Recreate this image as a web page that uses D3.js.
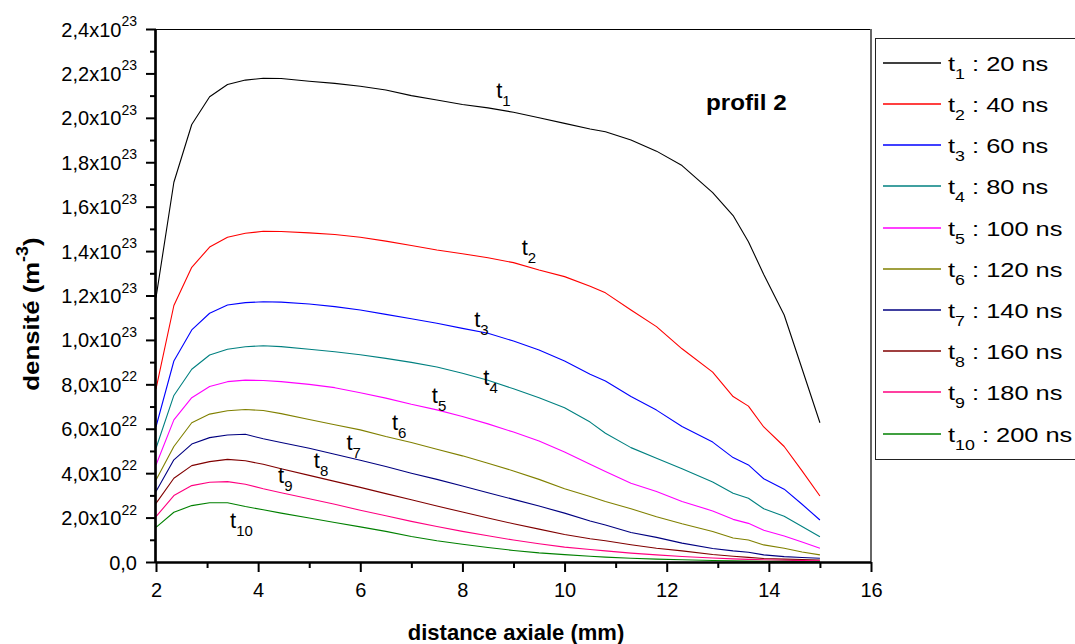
<!DOCTYPE html>
<html>
<head>
<meta charset="utf-8">
<script src="https://cdn.jsdelivr.net/npm/d3@7"></script>
<style>
  html, body { margin: 0; padding: 0; background: #fff; }
  svg { display: block; font-family: "Liberation Sans", Arial, Helvetica, sans-serif; }
</style>
</head>
<body>
<svg id="chart" width="1075" height="644"></svg>
<script>
// ---------- DATA (density in units of 1e22 m^-3) ----------
const xDist = [2.0, 2.35, 2.7, 3.05, 3.4, 3.75, 4.1, 4.45, 5.0, 5.5, 6.0, 6.5, 7.0, 7.5, 8.0, 8.5, 9.0, 9.5, 10.0, 10.5, 10.8, 11.3, 11.8, 12.3, 12.9, 13.3, 13.6, 13.9, 14.3, 14.65, 15.0];

const t1 = [11.9, 17.1, 19.7, 20.95, 21.5, 21.7, 21.78, 21.77, 21.65, 21.55, 21.42, 21.25, 21.0, 20.8, 20.6, 20.45, 20.25, 20.0, 19.75, 19.5, 19.37, 19.0, 18.5, 17.85, 16.63, 15.6, 14.42, 12.95, 11.12, 8.7, 6.27];
const t2 = [7.8, 11.55, 13.27, 14.18, 14.62, 14.8, 14.89, 14.88, 14.82, 14.75, 14.62, 14.45, 14.25, 14.05, 13.88, 13.7, 13.48, 13.15, 12.85, 12.42, 12.12, 11.35, 10.6, 9.6, 8.55, 7.45, 7.02, 6.08, 5.2, 4.1, 2.97];
const t3 = [6.09, 9.05, 10.45, 11.2, 11.57, 11.68, 11.72, 11.7, 11.62, 11.5, 11.35, 11.15, 10.95, 10.75, 10.52, 10.3, 9.95, 9.55, 9.05, 8.45, 8.15, 7.45, 6.84, 6.1, 5.4, 4.7, 4.37, 3.75, 3.28, 2.6, 1.89];
const t4 = [5.12, 7.5, 8.68, 9.32, 9.58, 9.69, 9.74, 9.7, 9.58, 9.47, 9.33, 9.17, 8.99, 8.78, 8.5, 8.18, 7.8, 7.4, 6.95, 6.3, 5.8, 5.15, 4.67, 4.2, 3.6, 3.1, 2.87, 2.4, 2.06, 1.6, 1.14];
const t5 = [4.37, 6.4, 7.4, 7.9, 8.12, 8.19, 8.17, 8.12, 8.0, 7.85, 7.62, 7.38, 7.1, 6.85, 6.55, 6.22, 5.85, 5.45, 4.95, 4.4, 4.07, 3.55, 3.17, 2.72, 2.3, 1.92, 1.74, 1.43, 1.17, 0.9, 0.62];
const t6 = [3.69, 5.2, 6.27, 6.66, 6.81, 6.87, 6.82, 6.68, 6.42, 6.18, 5.95, 5.65, 5.38, 5.08, 4.78, 4.45, 4.1, 3.72, 3.3, 2.95, 2.72, 2.4, 2.04, 1.72, 1.37, 1.08, 0.99, 0.77, 0.62, 0.45, 0.32];
const t7 = [3.17, 4.6, 5.31, 5.6, 5.72, 5.75, 5.55, 5.38, 5.12, 4.85, 4.58, 4.3, 4.0, 3.72, 3.42, 3.12, 2.82, 2.52, 2.2, 1.85, 1.67, 1.33, 1.11, 0.85, 0.61, 0.5, 0.44, 0.32, 0.24, 0.2, 0.17];
const t8 = [2.64, 3.77, 4.34, 4.52, 4.62, 4.56, 4.4, 4.2, 3.9, 3.63, 3.36, 3.08, 2.8, 2.52, 2.25, 1.98, 1.72, 1.48, 1.24, 1.05, 0.96, 0.78, 0.62, 0.5, 0.34, 0.26, 0.21, 0.16, 0.13, 0.11, 0.09];
const t9 = [2.04, 2.99, 3.44, 3.59, 3.62, 3.5, 3.3, 3.12, 2.85, 2.6, 2.33, 2.08, 1.83, 1.6, 1.38, 1.18, 0.99, 0.82, 0.67, 0.56, 0.5, 0.4, 0.32, 0.25, 0.18, 0.14, 0.12, 0.1, 0.08, 0.06, 0.05];
const t10 = [1.56, 2.24, 2.54, 2.67, 2.67, 2.5, 2.35, 2.2, 1.98, 1.78, 1.58, 1.38, 1.15, 0.96, 0.8, 0.65, 0.52, 0.41, 0.33, 0.26, 0.22, 0.17, 0.13, 0.1, 0.07, 0.05, 0.04, 0.03, 0.03, 0.02, 0.02];

const seriesIndex = ["1", "2", "3", "4", "5", "6", "7", "8", "9", "10"];
const seriesTimes = ["20 ns", "40 ns", "60 ns", "80 ns", "100 ns", "120 ns", "140 ns", "160 ns", "180 ns", "200 ns"];
const seriesColors = ["#000000", "#ff0000", "#0000ff", "#008080", "#ff00ff", "#808000", "#000080", "#800000", "#ff0080", "#008000"];
const seriesValues = [t1, t2, t3, t4, t5, t6, t7, t8, t9, t10];

// curve label anchors (x in mm, y in 1e22 m^-3)
const labelX = [8.66, 9.16, 8.23, 8.41, 7.40, 6.62, 5.73, 5.09, 4.39, 3.45];
const labelY = [20.88, 13.82, 10.59, 7.97, 7.15, 5.94, 5.04, 4.22, 3.54, 1.52];

// ticks
const xTicks = [2, 4, 6, 8, 10, 12, 14, 16];
const xTickLabels = ["2", "4", "6", "8", "10", "12", "14", "16"];
const yTicks = [0, 2, 4, 6, 8, 10, 12, 14, 16, 18, 20, 22, 24];
const yTickMantissa = ["0,0", "2,0x10", "4,0x10", "6,0x10", "8,0x10", "1,0x10", "1,2x10", "1,4x10", "1,6x10", "1,8x10", "2,0x10", "2,2x10", "2,4x10"];
const yTickExponent = ["", "22", "22", "22", "22", "23", "23", "23", "23", "23", "23", "23", "23"];

const xTitle = "distance axiale (mm)";
const yTitle = "densité (m";
const yTitleExp = "-3";
const annotation = "profil 2";

// ---------- LAYOUT ----------
const svg = d3.select("#chart");
const L = 156, R = 871, T = 29, B = 562;
const x = d3.scaleLinear().domain([2, 16]).range([L, R]);
const y = d3.scaleLinear().domain([0, 24]).range([B, T]);

svg.append("rect").attr("width", 1075).attr("height", 644).attr("fill", "#fff");

// frame: top and right
svg.append("line").attr("x1", L).attr("x2", R).attr("y1", T + 0.5).attr("y2", T + 0.5)
  .attr("stroke", "#000").attr("stroke-width", 1);
svg.append("line").attr("x1", R).attr("x2", R).attr("y1", T).attr("y2", B)
  .attr("stroke", "#666").attr("stroke-width", 2);

// curves
const line = d3.line().x((d, i) => x(xDist[i])).y(d => y(d));
seriesValues.forEach((vals, k) => {
  svg.append("path").datum(vals).attr("d", line)
    .attr("fill", "none").attr("stroke", seriesColors[k]).attr("stroke-width", 1.1)
    .attr("stroke-linejoin", "round");
});

// X axis
const xMinor = d3.range(3, 16, 2);
const gxMinor = svg.append("g").attr("transform", `translate(0,${B})`)
  .call(d3.axisBottom(x).tickValues(xMinor).tickSize(6).tickFormat(""));
const gx = svg.append("g").attr("transform", `translate(0,${B})`)
  .call(d3.axisBottom(x).tickValues(xTicks).tickSize(10).tickPadding(6)
    .tickFormat((d, i) => xTickLabels[i]));
[gx, gxMinor].forEach(g => {
  g.select(".domain").attr("stroke", "#000").attr("stroke-width", 2.2).attr("d", `M${L},0.5H${R}`);
  g.selectAll(".tick line").attr("stroke", "#000").attr("stroke-width", 2);
});
gx.selectAll(".tick text").attr("font-size", 20).attr("fill", "#000")
  .attr("font-family", "Liberation Sans, Arial, sans-serif").attr("dy", "0.95em");

// Y axis
const yMinor = d3.range(1, 24, 2);
const gyMinor = svg.append("g").attr("transform", `translate(${L},0)`)
  .call(d3.axisLeft(y).tickValues(yMinor).tickSize(6).tickFormat(""));
const gy = svg.append("g").attr("transform", `translate(${L},0)`)
  .call(d3.axisLeft(y).tickValues(yTicks).tickSize(10).tickPadding(9).tickFormat(""));
[gy, gyMinor].forEach(g => {
  g.select(".domain").attr("stroke", "#000").attr("stroke-width", 2.2).attr("d", `M-0.5,${T}V${B}`);
  g.selectAll(".tick line").attr("stroke", "#000").attr("stroke-width", 2);
});
gy.selectAll(".tick").each(function (d, i) {
  const t = d3.select(this).select("text")
    .attr("font-size", 20).attr("fill", "#000").attr("x", -19).attr("dy", "0.35em")
    .attr("font-family", "Liberation Sans, Arial, sans-serif");
  t.text(null);
  t.append("tspan").text(yTickMantissa[i]);
  if (yTickExponent[i]) {
    t.append("tspan").attr("font-size", 14).attr("dy", "-0.75em").text(yTickExponent[i]);
  }
});

// axis titles
svg.append("text").attr("x", 516).attr("y", 640).attr("text-anchor", "middle")
  .attr("font-size", 22).attr("font-weight", "bold").text(xTitle);
const yt = svg.append("text").attr("transform", "translate(39,314) rotate(-90) scale(1.12,1)")
  .attr("text-anchor", "middle").attr("font-size", 23).attr("font-weight", "bold");
yt.append("tspan").text(yTitle);
yt.append("tspan").attr("font-size", 16).attr("dy", "-0.7em").text(yTitleExp);
yt.append("tspan").attr("dy", "0.5em").text(")");

// annotation
svg.append("text").attr("transform", "translate(706,110) scale(1.1,1)").attr("font-size", 22)
  .attr("font-weight", "bold").text(annotation);

// curve labels
seriesIndex.forEach((s, k) => {
  const t = svg.append("text").attr("x", x(labelX[k])).attr("y", y(labelY[k]))
    .attr("font-size", 22).attr("fill", "#000");
  t.append("tspan").text("t");
  t.append("tspan").attr("font-size", 15).attr("dy", 8).text(s);
});

// legend
const lgX = 875, lgY = 38;
svg.append("rect").attr("x", lgX + 0.5).attr("y", lgY + 0.5).attr("width", 215).attr("height", 421)
  .attr("fill", "#fff").attr("stroke", "#222").attr("stroke-width", 1);
seriesIndex.forEach((s, k) => {
  const cy = Math.round(62.7 + k * 41.2);
  svg.append("line").attr("x1", 883).attr("x2", 941).attr("y1", cy).attr("y2", cy)
    .attr("stroke", seriesColors[k]).attr("stroke-width", 1.6);
  const t = svg.append("text").attr("transform", `translate(948,${cy + 8}) scale(1.27,1)`)
    .attr("font-size", 20).attr("fill", "#000");
  t.append("tspan").text("t");
  t.append("tspan").attr("font-size", 14).attr("dy", 8).text(s);
  t.append("tspan").attr("dy", -8).text(" : " + seriesTimes[k]);
});
</script>
</body>
</html>
